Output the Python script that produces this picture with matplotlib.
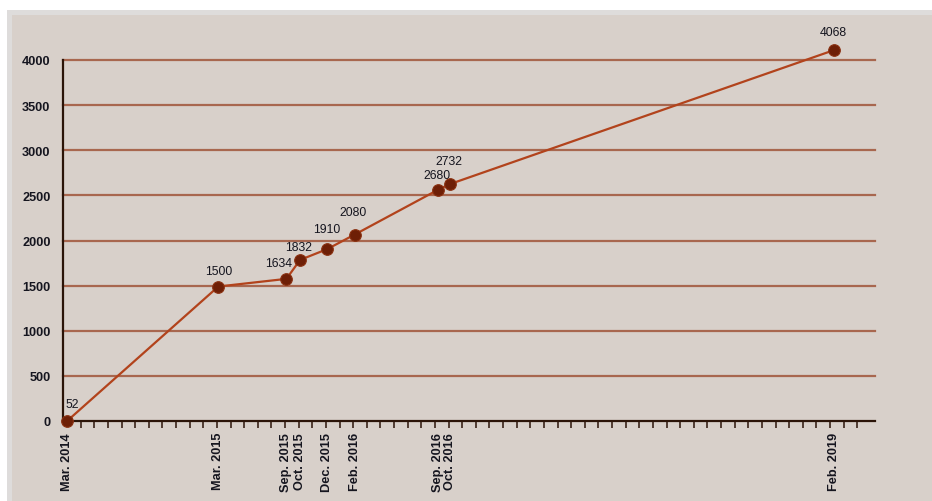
import matplotlib.pyplot as plt
from matplotlib.patches import Rectangle

plt.rcParams['font.family'] = ['Liberation Sans', 'DejaVu Sans']

# ========== 数据 ==========
# 横轴位置（以刻度间隔为单位，从 Mar. 2014 起算，按图读取）
x_pos = [0, 11.1, 16.1, 17.1, 19.1, 21.1, 27.2, 28.1, 56.3]
date_labels = ['Mar. 2014', 'Mar. 2015', 'Sep. 2015', 'Oct. 2015', 'Dec. 2015',
               'Feb. 2016', 'Sep. 2016', 'Oct. 2016', 'Feb. 2019']
# 图上点的高度
y_vals = [0, 1490, 1575, 1785, 1905, 2065, 2560, 2625, 4110]
# 点旁的数字标注
point_labels = ['52', '1500', '1634', '1832', '1910', '2080', '2680', '2732', '4068']
# 标注偏移（像素）
label_dx = [5, 0, -8, -1, -1, -1, -1, -1, -1]
label_dy = [17, 16, 16, 13, 20, 23, 15, 23, 18]

yticks = [0, 500, 1000, 1500, 2000, 2500, 3000, 3500, 4000]

bg = '#d8d0ca'
line_col = '#b2431c'
dot_col = '#6e1f06'
grid_col = '#a8674f'
axis_col = '#2b1408'
text_col = '#15151f'

fig = plt.figure(figsize=(9.32, 5.02), dpi=100, facecolor='white')
fig.patches.append(Rectangle((7 / 932, 0), 1, 1 - 11 / 502, transform=fig.transFigure,
                             facecolor='#dedcdb', edgecolor='none', zorder=-2))
fig.patches.append(Rectangle((12 / 932, 0), 1, 1 - 16 / 502, transform=fig.transFigure,
                             facecolor=bg, edgecolor='none', zorder=-1))

ax = fig.add_axes([63 / 932, 1 - 422 / 502, (875 - 63) / 932, (422 - 61) / 502])
ax.set_facecolor('none')

# 网格线
for yv in yticks[1:]:
    ax.axhline(yv, color=grid_col, lw=1.6, zorder=1, clip_on=False)

ax.plot(x_pos, y_vals, color=line_col, lw=1.6, zorder=3, clip_on=False)
ax.scatter(x_pos, y_vals, s=70, color=dot_col, edgecolor='#8a3010', linewidth=0.8,
           zorder=4, clip_on=False)

for xv, yv, lab, dx, dy in zip(x_pos, y_vals, point_labels, label_dx, label_dy):
    ax.annotate(lab, (xv, yv), xytext=(dx, dy), textcoords='offset pixels',
                ha='center', va='center', fontsize=8.8, color=text_col,
                annotation_clip=False)

ax.set_xlim(-0.3, 59.3)
ax.set_ylim(0, 4000)

ax.set_yticks(yticks)
ax.set_yticklabels([str(v) for v in yticks], fontsize=9.2, fontweight='bold', color=text_col)
ax.tick_params(axis='y', length=0, pad=9)

ax.set_xticks(x_pos)
ax.set_xticklabels(date_labels, rotation=90, fontsize=9.2, fontweight='bold', color=text_col)
ax.set_xticks(range(1, 59), minor=True)
ax.tick_params(axis='x', which='major', length=0, pad=8)
ax.tick_params(axis='x', which='minor', length=5, width=1.1, color=axis_col, direction='out')

for side in ['top', 'right']:
    ax.spines[side].set_visible(False)
for side in ['left', 'bottom']:
    ax.spines[side].set_color(axis_col)
    ax.spines[side].set_linewidth(1.6)

plt.savefig('out.png', dpi=100, facecolor=fig.get_facecolor())
